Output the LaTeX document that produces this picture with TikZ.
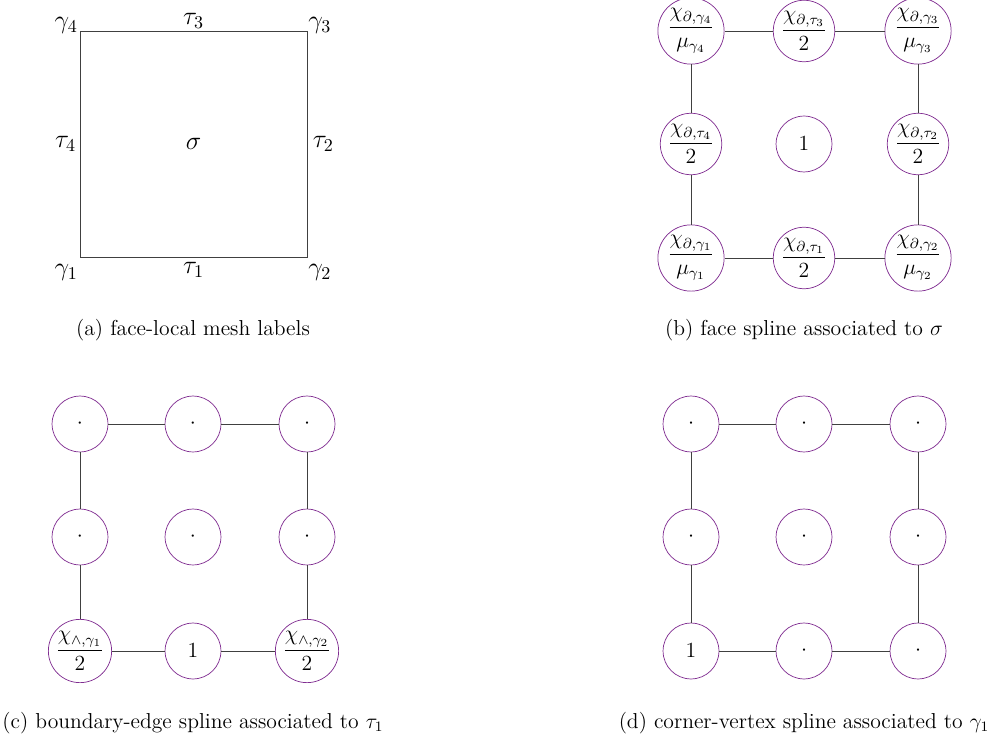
\documentclass[tikz,border=0pt]{standalone}
\usepackage{amsmath}
\usepackage{xcolor}
\usepackage{tikz}
\usetikzlibrary{positioning, calc}
\definecolor{splpurple}{RGB}{128,45,145}
\tikzstyle{spl} = [draw=splpurple, circle, thin, minimum size=1.09cm, inner sep=0.3pt, font=\large]
\tikzstyle{link} = [thin, black!75]
\tikzstyle{lbl} = [font=\Large, inner sep=0pt]
\tikzstyle{subcap} = [align=center, font=\large]

\begin{document}
\begin{tikzpicture}[x=0.0195cm, y=-0.0195cm]
    \useasboundingbox (0,0) rectangle (987,742);
    % (a) face-local mesh labels
    \coordinate (g1) at (80,257);
    \coordinate (g2) at (307,257);
    \coordinate (g3) at (307,31);
    \coordinate (g4) at (80,31);
    \draw[link] (g1) -- (g2) -- (g3) -- (g4) -- cycle;
    \node[lbl, above left=-1.5pt and 1pt of g4] (lg4) {$\gamma_4$};
    \node[lbl, above=1pt of $(g4)!0.5!(g3)$] (lt3) {$\tau_3$};
    \node[lbl, above right=-1.5pt and 0.5pt of g3] (lg3) {$\gamma_3$};
    \node[lbl, left=2pt of $(g1)!0.5!(g4)$] (lt4) {$\tau_4$};
    \node[lbl, right=3pt of $(g2)!0.5!(g3)$] (lt2) {$\tau_2$};
    \node[lbl, below left=4pt and 1pt of g1] (lg1) {$\gamma_1$};
    \node[lbl, below=3pt of $(g1)!0.5!(g2)$] (lt1) {$\tau_1$};
    \node[lbl, below right=4pt and 0.5pt of g2] (lg2) {$\gamma_2$};
    \node[lbl] (lsig) at ($(g1)!0.5!(g3)$) {$\sigma$};
    \node[subcap] (capa) at (193,330) {(a) face-local mesh labels};

    % (b) face spline
    \node[spl] (b11) at (691,258) {$\dfrac{\chi_{\partial,\gamma_1}}{\mu_{\gamma_1}}$};
    \node[spl] (b21) at (804,258) {$\dfrac{\chi_{\partial,\tau_1}}{2}$};
    \node[spl] (b31) at (918,258) {$\dfrac{\chi_{\partial,\gamma_2}}{\mu_{\gamma_2}}$};
    \node[spl] (b12) at (691,144) {$\dfrac{\chi_{\partial,\tau_4}}{2}$};
    \node[spl] (b22) at (804,144) {$1$};
    \node[spl] (b32) at (918,144) {$\dfrac{\chi_{\partial,\tau_2}}{2}$};
    \node[spl] (b13) at (691,31) {$\dfrac{\chi_{\partial,\gamma_4}}{\mu_{\gamma_4}}$};
    \node[spl] (b23) at (804,31) {$\dfrac{\chi_{\partial,\tau_3}}{2}$};
    \node[spl] (b33) at (918,31) {$\dfrac{\chi_{\partial,\gamma_3}}{\mu_{\gamma_3}}$};
    \draw[link] (b11) -- (b21) -- (b31) -- (b32) -- (b33) -- (b23) -- (b13) -- (b12) -- (b11);
    \node[subcap] (capb) at (804,330) {(b) face spline associated to $\sigma$};

    % (c) boundary-edge spline
    \node[spl] (c11) at (80,651) {$\dfrac{\chi_{\wedge,\gamma_1}}{2}$};
    \node[spl] (c21) at (193,651) {$1$};
    \node[spl] (c31) at (307,651) {$\dfrac{\chi_{\wedge,\gamma_2}}{2}$};
    \node[spl] (c12) at (80,537) {$\cdot$};
    \node[spl] (c22) at (193,537) {$\cdot$};
    \node[spl] (c32) at (307,537) {$\cdot$};
    \node[spl] (c13) at (80,424) {$\cdot$};
    \node[spl] (c23) at (193,424) {$\cdot$};
    \node[spl] (c33) at (307,424) {$\cdot$};
    \draw[link] (c11) -- (c21) -- (c31) -- (c32) -- (c33) -- (c23) -- (c13) -- (c12) -- (c11);
    \node[subcap] (capc) at (193,723) {(c) boundary-edge spline associated to $\tau_1$};

    % (d) corner-vertex spline
    \node[spl] (d11) at (691,651) {$1$};
    \node[spl] (d21) at (804,651) {$\cdot$};
    \node[spl] (d31) at (918,651) {$\cdot$};
    \node[spl] (d12) at (691,537) {$\cdot$};
    \node[spl] (d22) at (804,537) {$\cdot$};
    \node[spl] (d32) at (918,537) {$\cdot$};
    \node[spl] (d13) at (691,424) {$\cdot$};
    \node[spl] (d23) at (804,424) {$\cdot$};
    \node[spl] (d33) at (918,424) {$\cdot$};
    \draw[link] (d11) -- (d21) -- (d31) -- (d32) -- (d33) -- (d23) -- (d13) -- (d12) -- (d11);
    \node[subcap] (capd) at (804,723) {(d) corner-vertex spline associated to $\gamma_1$};
\end{tikzpicture}
\end{document}
